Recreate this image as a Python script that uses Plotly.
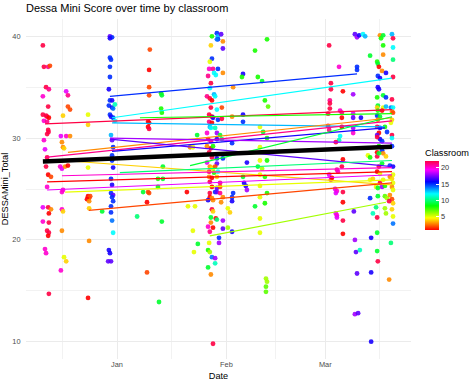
import colorsys
import pandas as pd
import plotly.graph_objects as go

BASE = pd.Timestamp("2022-01-01")

# ---- data: observation day (days from 1 Jan 2022), DESSA Mini total, classroom ----
point_day = [
    # Dec 11-13
    -21.0, -20.7, -19.5, -19.0, -20.1, -19.3, -21.0, -19.5, -21.0, -20.1, -19.8, -19.3, -20.7, -19.8, -19.5, -19.4, -19.8, -20.7,
    -20.4, -19.8, -20.1, -19.5, -18.7, -19.8, -21.0, -19.5, -18.7, -19.3, -21.0, -19.3, -19.8, -19.3, -19.5, -20.4, -20.1, -19.3,
    # Dec 15-18
    -14.4, -13.9, -13.9, -13.3, -15.3, -15.9, -14.4, -13.3, -15.6, -15.3, -15.0, -16.1, -15.6, -14.7, -13.9, -15.6, -15.3, -15.6,
    -15.3, -15.6, -15.0, -14.4, -15.9,
    # Dec 23
    -8.2, -8.2, -8.2, -8.2, -7.9, -7.6, -8.5, -7.9, -7.9, -7.9, -8.2,
    # Dec 29-31
    -2.0, -1.4, -2.0, -2.0, -1.7, -2.0, -2.0, -2.3, -2.0, -1.4, -2.3, -1.4, -1.1, -0.6, -2.0, -1.7, -1.1, -0.6, -1.7, -1.4,
    -1.1, -1.4, -1.4, -1.1, -1.7, -1.4, -1.7, -1.1, -1.4, -1.1, -1.7, -1.7, -1.4, -1.1, -2.3, -2.0, -2.5, -1.7,
    # Jan 9
    9.3, 9.1, 9.1, 9.1, 8.8, 9.1, 8.8, 9.1, 8.8, 9.1, 8.5, 8.5,
    # Jan 6-14
    12.5, 12.7, 12.5, 12.7, 11.9, 12.7, 7.4, 11.6, 5.7, -4.2, 13.0, 11.6, 13.0,
    # Jan 20-23
    19.8, 20.1, 22.1, 21.5, 21.8, 22.9, 20.7, 21.5, 22.7,
    # Jan 26-31
    28.3, 28.6, 29.5, 28.6, 28.3, 26.9, 30.0, 26.6, 30.0, 26.9,
    26.3, 26.1, 27.2, 28.6, 25.8, 27.5, 28.0, 30.0, 26.6, 26.3,
    27.5, 27.8, 25.5, 26.3, 26.9, 26.6, 28.3, 29.7, 26.1, 26.9,
    27.2, 28.6, 29.7, 26.1, 26.9, 26.3, 26.6, 27.8, 25.5, 28.3,
    29.2, 25.8, 26.6, 28.3, 29.7, 25.5, 26.6, 27.2, 26.1, 26.9,
    28.3, 30.0, 25.5, 28.3, 26.3, 26.9, 27.2, 27.8, 26.1, 27.5,
    28.6, 26.1, 26.9, 28.3, 26.3, 29.2, 26.9, 28.3, 29.2, 26.3,
    27.8, 26.3, 26.9, 28.3, 29.2, 25.8, 27.2, 26.9, 27.2,
    26.6, 28.0, 28.3, 30.0, 26.6, 25.8, 27.2, 26.3, 30.0, 28.9,
    28.9, 26.1, 25.8, 26.3, 26.9, 27.8, 27.8, 25.8, 26.6, 27.2,
    # Feb 1-6
    32.9, 35.7, 35.4, 32.6, 35.7, 35.7, 32.6, 36.8, 35.7, 36.0, 36.5, 36.8, 32.9, 30.0, 29.5, 32.6, 32.6, 31.4, 32.0, 32.6, 31.4,
    # Feb 9-14
    42.5, 39.1, 39.9, 41.1, 41.9, 42.8, 40.5, 41.4, 42.5, 40.5, 40.5, 42.5, 39.9, 41.1, 40.5, 41.9, 40.5, 40.5, 41.9, 42.5,
    39.1, 40.5, 40.5, 42.2, 42.5, 42.2, 42.2,
    # Mar 1-11
    60.1, 62.9, 60.6, 60.6, 64.0, 66.9, 60.3, 60.3, 60.3, 63.2,
    63.7, 59.8, 63.7, 66.9, 66.9, 69.1, 59.8, 60.1, 63.7, 66.9,
    66.9, 63.2, 62.9, 62.0, 64.0, 62.3, 62.6, 63.7, 60.1, 60.6,
    60.9, 61.8, 62.3, 64.0, 62.0, 64.0, 62.0, 62.3, 62.3, 64.0,
    64.0, 67.4, 67.7, 68.0, 67.4, 68.3, 68.8, 67.1, 67.4, 68.0,
    68.6, 69.7, 70.3, 68.0, 68.0,
    # Mar 12-20
    74.5, 74.8, 75.4, 77.9, 78.2, 75.4, 78.2, 71.7, 75.4, 78.2,
    73.7, 73.9, 74.2, 75.1, 76.2, 73.9, 74.5, 78.2, 73.9, 74.2,
    75.4, 76.2, 73.7, 77.9, 73.9, 73.7, 75.4, 76.2, 77.6, 78.2,
    73.9, 75.1, 77.9, 78.2, 73.7, 74.5, 73.9, 77.9, 77.6, 73.7,
    74.5, 75.9, 74.2, 73.7, 76.5, 77.9, 74.5, 75.1, 73.7, 77.9,
    74.2, 75.1, 73.7, 75.4, 77.9, 71.1, 71.7, 73.7, 74.2, 76.2,
    75.1, 74.2, 77.3, 78.2, 73.7, 74.5, 78.2, 77.3, 71.7, 72.5,
    74.5, 75.4, 77.9, 78.2, 73.4, 73.9, 75.1, 75.9, 77.9, 78.2,
    71.7, 73.9, 75.9, 76.5, 77.3, 77.9, 78.2, 77.1, 73.4, 72.5,
    75.9, 76.2, 77.9, 78.2, 73.7, 78.2, 73.7, 72.0, 77.6, 73.7,
    73.9, 72.0, 77.1, 72.0,
]

point_score = [
    39.1, 37.0, 37.0, 37.1, 35.0, 34.8, 34.1, 33.1, 32.3, 32.2, 32.1, 32.0, 31.7, 31.6, 30.8, 30.6, 30.4, 29.8,
    28.9, 28.1, 27.2, 26.4, 26.2, 25.2, 23.2, 23.2, 23.0, 22.6, 21.8, 21.7, 20.9, 20.7, 20.4, 19.1, 18.7, 14.7,
    34.6, 34.2, 33.1, 32.8, 32.2, 30.2, 30.2, 30.2, 29.6, 29.1, 29.0, 27.2, 27.0, 27.2, 27.3, 24.7, 24.9, 23.0,
    22.8, 20.9, 18.3, 17.9, 17.0,
    32.3, 31.3, 27.1, 24.3, 24.1, 24.3, 24.0, 23.8, 23.1, 19.9, 14.3,
    40.0, 39.9, 39.8, 37.9, 37.7, 37.0, 36.0, 34.8, 33.7, 33.7, 33.2, 33.0, 32.9, 33.3, 32.3, 32.1, 32.0, 31.7, 30.3, 29.8,
    29.1, 28.3, 27.8, 27.1, 26.0, 25.4, 24.6, 24.4, 24.2, 23.8, 23.3, 22.7, 21.9, 20.7, 19.0, 18.7, 17.9, 17.9,
    38.7, 36.7, 35.0, 34.2, 31.6, 31.5, 31.1, 30.9, 24.7, 24.6, 23.7, 16.8,
    34.4, 34.2, 32.9, 32.5, 13.9, 21.8, 24.7, 25.2, 22.3, 22.8, 27.2, 26.0, 26.0,
    24.7, 23.3, 23.3, 20.9, 18.8, 19.6, 29.1, 29.1, 30.3,
    40.3, 40.0, 40.2, 39.7, 39.7, 40.0, 39.5, 39.1, 38.8, 37.8,
    37.5, 36.8, 36.8, 36.8, 36.1, 36.4, 36.2, 36.4, 35.4, 34.9,
    34.3, 34.1, 34.1, 33.9, 33.7, 33.0, 32.8, 33.0, 32.3, 32.1,
    32.0, 31.8, 31.9, 31.6, 31.5, 31.1, 31.0, 31.0, 30.5, 30.5,
    30.3, 29.9, 29.7, 29.9, 29.9, 29.2, 29.0, 29.2, 28.6, 28.1,
    28.0, 28.0, 27.6, 27.5, 27.2, 27.1, 27.0, 27.2, 26.7, 26.6,
    26.7, 26.2, 26.1, 26.2, 25.7, 25.6, 25.2, 25.1, 25.2, 24.6,
    24.7, 24.2, 24.1, 24.7, 24.6, 23.9, 23.9, 23.0, 22.8,
    22.2, 22.1, 22.0, 21.9, 21.7, 21.3, 21.2, 20.8, 21.1, 20.2,
    19.7, 19.7, 19.0, 18.8, 18.3, 18.2, 17.7, 17.3, 16.6, 9.8,
    35.0, 36.3, 36.0, 32.1, 32.3, 31.6, 29.5, 27.6, 26.2, 25.6, 25.3, 24.9, 24.6, 24.2, 23.7, 24.2, 23.8, 23.1, 22.7, 20.8, 21.2,
    39.7, 38.6, 36.0, 35.6, 33.7, 33.1, 31.1, 30.6, 30.0, 29.1, 27.8, 27.8, 27.2, 27.0, 26.4, 26.2, 25.3, 24.2, 23.6, 24.6,
    23.3, 22.1, 20.7, 16.2, 15.9, 15.4, 14.9,
    39.1, 37.0, 35.4, 34.8, 34.6, 34.3, 33.7, 33.4, 32.9, 32.7,
    32.5, 32.4, 32.0, 32.4, 32.0, 32.0, 31.2, 30.8, 31.1, 31.0,
    30.5, 30.2, 29.8, 29.6, 27.9, 26.9, 26.7, 27.2, 26.4, 25.9,
    26.1, 25.0, 24.8, 24.7, 24.6, 23.7, 22.6, 22.4, 22.2, 21.9,
    20.6, 20.0, 18.8, 16.7, 12.7, 12.8, 19.0, 22.8, 40.2, 39.9,
    40.1, 40.2, 40.0, 37.0, 36.7,
    40.1, 39.8, 40.1, 40.2, 39.8, 39.1, 38.9, 38.1, 38.2, 37.7,
    37.5, 37.3, 37.0, 36.6, 36.4, 36.1, 35.9, 36.0, 35.0, 34.8,
    34.2, 34.0, 34.0, 33.8, 33.2, 33.0, 33.0, 33.1, 33.0, 33.0,
    32.7, 32.7, 32.6, 32.5, 32.2, 32.1, 31.8, 31.8, 31.5, 31.1,
    31.0, 31.1, 30.5, 30.3, 30.6, 30.3, 29.9, 29.7, 30.1, 30.0,
    29.2, 28.8, 28.6, 28.5, 29.2, 28.3, 28.1, 28.2, 28.5, 28.2,
    27.5, 27.2, 27.3, 27.2, 26.7, 26.5, 26.4, 26.2, 25.9, 26.0,
    25.6, 25.9, 26.0, 25.6, 25.2, 25.1, 25.2, 25.3, 25.2, 24.9,
    24.1, 24.3, 24.3, 24.1, 24.4, 24.0, 23.6, 23.8, 23.2, 22.6,
    23.1, 22.6, 23.0, 22.3, 22.2, 21.6, 20.7, 20.2, 19.7, 18.9,
    17.9, 16.8, 16.1, 10.0,
]

point_class = [
    22, 22, 21, 2, 22, 21, 20, 22, 22, 22, 22, 1, 20, 21, 22, 22, 22, 20,
    19, 22, 22, 1, 2, 20, 19, 22, 3, 1, 20, 22, 22, 22, 1, 20, 20, 22,
    19, 21, 2, 2, 4, 19, 20, 3, 3, 3, 4, 20, 19, 3, 1, 20, 20, 20,
    4, 3, 5, 4, 20,
    5, 4, 5, 1, 2, 2, 1, 3, 4, 3, 1,
    17, 15, 16, 15, 15, 15, 15, 16, 15, 16, 15, 16, 14, 11, 15, 16, 15, 12, 13, 17,
    15, 15, 15, 16, 15, 16, 15, 17, 15, 15, 15, 15, 14, 12, 16, 16, 17, 17,
    2, 1, 2, 2, 1, 1, 1, 22, 2, 2, 1, 2,
    8, 9, 8, 8, 9, 9, 9, 8, 10, 9, 9, 8, 9,
    1, 5, 5, 5, 5, 9, 3, 5, 9,
    15, 13, 17, 15, 14, 8, 3, 4, 17, 15,
    5, 20, 21, 15, 21, 12, 12, 3, 22, 12,
    13, 12, 21, 22, 1, 22, 12, 2, 22, 1,
    16, 15, 22, 21, 1, 13, 12, 11, 20, 18,
    9, 22, 21, 16, 10, 3, 1, 8, 22, 22,
    16, 15, 19, 17, 3, 4, 5, 2, 22, 8,
    12, 3, 1, 4, 22, 21, 1, 17, 2, 22,
    15, 1, 3, 17, 21, 16, 3, 22, 4,
    9, 1, 10, 18, 3, 20, 1, 21, 17, 15,
    18, 5, 8, 6, 14, 18, 11, 9, 3, 22,
    3, 16, 8, 3, 16, 15, 15, 16, 9, 16, 16, 18, 15, 3, 3, 15, 16, 5, 4, 16, 6,
    8, 8, 8, 9, 8, 7, 5, 9, 8, 5, 5, 8, 9, 6, 5, 8, 5, 5, 8, 8,
    9, 5, 5, 6, 6, 7, 7,
    22, 20, 22, 22, 1, 18, 21, 22, 22, 20,
    21, 22, 1, 19, 17, 16, 22, 21, 1, 18,
    20, 12, 11, 22, 1, 21, 20, 22, 19, 21,
    1, 19, 20, 22, 19, 1, 19, 20, 19, 22,
    1, 18, 17, 17, 18, 17, 11, 17, 17, 18,
    16, 12, 13, 15, 15,
    3, 8, 9, 13, 22, 8, 12, 9, 3, 10,
    8, 9, 1, 3, 16, 15, 16, 22, 16, 16,
    9, 15, 8, 22, 9, 4, 5, 13, 14, 12,
    8, 1, 3, 2, 15, 9, 3, 4, 5, 22,
    16, 8, 1, 17, 15, 22, 16, 15, 22, 12,
    8, 15, 1, 3, 15, 5, 8, 22, 9, 4,
    9, 22, 15, 16, 1, 5, 5, 3, 5, 4,
    22, 5, 4, 5, 5, 9, 18, 8, 3, 5,
    15, 9, 7, 6, 3, 2, 4, 22, 10, 11,
    6, 6, 4, 5, 22, 14, 9, 16, 10, 9,
    22, 16, 3, 16,
]

# ---- per-classroom linear fits (end points of each fitted line) ----
line_class = [15, 12, 22, 8, 13, 21, 3, 16, 17, 18, 4, 20, 1, 19, 5, 2, 6, 9, 10]
line_start_day = [-2.0, -1.4, -20.4, 6.5, -1.4, -20.4, -13.9, -1.4, -2.0, -2.0, -15.3, -15.6, -19.8, -19.8, -14.7, -8.0, 26.3, 20.7, 0.8]
line_start_score = [34.1, 32.0, 31.4, 32.0, 31.5, 28.1, 28.6, 28.7, 29.9, 30.0, 27.8, 26.3, 25.7, 24.9, 24.7, 22.9, 20.4, 27.3, 26.6]
line_end_day = [68.0, 77.9, 77.9, 77.9, 75.9, 77.9, 77.9, 75.9, 77.9, 77.9, 77.9, 77.9, 77.9, 77.9, 77.9, 77.9, 76.2, 77.9, 77.9]
line_end_score = [36.3, 35.9, 32.8, 32.4, 31.1, 31.7, 32.0, 31.0, 27.2, 29.5, 25.4, 27.1, 26.7, 26.4, 25.9, 25.6, 23.7, 32.1, 27.8]

# overall fit across all classrooms
overall_day = [-21.0, 77.9]
overall_score = [27.7, 29.15]

x_tick_dates = ["2022-01-01", "2022-02-01", "2022-03-01"]
x_tick_labels = ["Jan", "Feb", "Mar"]
x_minor_dates = ["2021-12-16 12:00", "2022-01-16 12:00", "2022-02-15", "2022-03-16 12:00"]
y_ticks = [10, 20, 30, 40]
y_minor = [15, 25, 35]
class_ticks = [5, 10, 15, 20]
class_min, class_max = 1, 22

assert len(point_day) == len(point_score) == len(point_class), (len(point_day), len(point_score), len(point_class))


def to_date(days):
    return BASE + pd.to_timedelta(pd.Series(days, dtype=float), unit="D")


def hue_color(t):
    r, g, b = colorsys.hsv_to_rgb(t * 344.0 / 360.0, 1.0, 1.0)
    return "rgb(%d,%d,%d)" % (round(r * 255), round(g * 255), round(b * 255))


def class_color(c):
    return hue_color((c - class_min) / (class_max - class_min))


colorscale = [[i / 40, hue_color(i / 40)] for i in range(41)]

FONT = "Liberation Sans, Arial, Helvetica, sans-serif"

fig = go.Figure()
fig.add_trace(go.Scatter(
    x=to_date(point_day), y=point_score, mode="markers",
    marker=dict(
        size=4.8, color=point_class, colorscale=colorscale, cmin=class_min, cmax=class_max,
        opacity=0.9, line=dict(width=0),
        colorbar=dict(
            title=dict(text="Classroom", side="top", font=dict(size=9.2, color="#000000")),
            thickness=14, thicknessmode="pixels", len=84, lenmode="pixels",
            x=(425 - 26) / 385, xanchor="left", xpad=0,
            y=(359 - 230) / 340, yanchor="bottom", ypad=0,
            tickvals=class_ticks, ticks="inside", ticklen=3, tickcolor="white", tickwidth=1,
            tickfont=dict(size=7.4, color="#333333"), outlinewidth=0,
        ),
    ),
    showlegend=False, hoverinfo="skip",
))

for c, sd, ss, ed, es in zip(line_class, line_start_day, line_start_score, line_end_day, line_end_score):
    fig.add_trace(go.Scatter(
        x=to_date([sd, ed]), y=[ss, es], mode="lines",
        line=dict(color=class_color(c), width=1.2), showlegend=False, hoverinfo="skip",
    ))

fig.add_trace(go.Scatter(
    x=to_date(overall_day), y=overall_score, mode="lines",
    line=dict(color="black", width=4.5), showlegend=False, hoverinfo="skip",
))

x_range = to_date([-25.78, 83.29])
fig.update_layout(
    width=474, height=383,
    margin=dict(l=26, r=63, t=19, b=24, autoexpand=False),
    paper_bgcolor="white", plot_bgcolor="white",
    font=dict(family=FONT, color="#000000"),
    title=dict(text="Dessa Mini Score over time by classroom", x=26 / 474, xanchor="left", xref="container",
               y=1 - 8 / 383, yanchor="middle", yref="container", font=dict(size=11, color="#000000"),
               pad=dict(l=0, r=0, t=0, b=0)),
    showlegend=False,
    xaxis=dict(
        type="date", range=[x_range.iloc[0], x_range.iloc[1]], automargin=False,
        tickvals=x_tick_dates, ticktext=x_tick_labels,
        tickfont=dict(size=7.4, color="#4D4D4D"),
        showgrid=True, gridcolor="#EBEBEB", gridwidth=1,
        minor=dict(tickvals=x_minor_dates, showgrid=True, gridcolor="#F2F2F2", gridwidth=0.6),
        zeroline=False, showline=False, ticks="",
        title=dict(text="Date", font=dict(size=9.2, color="#000000"), standoff=4),
    ),
    yaxis=dict(
        range=[8.3, 41.7], tickvals=y_ticks, automargin=False,
        tickfont=dict(size=7.4, color="#4D4D4D"),
        showgrid=True, gridcolor="#EBEBEB", gridwidth=1,
        minor=dict(tickvals=y_minor, showgrid=True, gridcolor="#F2F2F2", gridwidth=0.6),
        zeroline=False, showline=False, ticks="outside", ticklen=3, tickcolor="rgba(0,0,0,0)",
        title=dict(text="DESSAMini_Total", font=dict(size=9.2, color="#000000"), standoff=2),
    ),
)

# the page's default body margin would offset the 474x383 figure; remove it
fig.write_html("out.html", config={"displayModeBar": False},
               post_script="document.body.style.margin='0';")
